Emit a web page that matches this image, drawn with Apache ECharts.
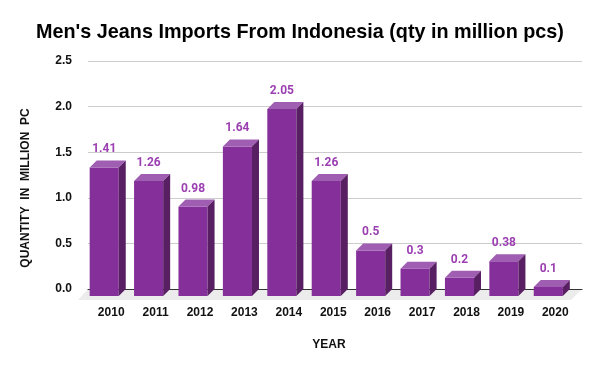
<!DOCTYPE html>
<html>
<head>
<meta charset="utf-8">
<script src="https://cdn.jsdelivr.net/npm/echarts@6/dist/echarts.min.js"></script>
<style>html,body{margin:0;padding:0;background:#fff}#c{width:600px;height:371px}</style>
</head>
<body>
<div id="c"></div>
<script>
const years = ['2010','2011','2012','2013','2014','2015','2016','2017','2018','2019','2020'];
const quantities = [1.41, 1.26, 0.98, 1.64, 2.05, 1.26, 0.5, 0.3, 0.2, 0.38, 0.1];
const yTicks = [0, 0.5, 1.0, 1.5, 2.0, 2.5];

const DEPTH = 7;
const FRONT = '#85309a', TOP = '#a05eb3', SIDE = '#581f63', LABEL = '#9b3fb1';

const chart = echarts.init(document.getElementById('c'), null, {renderer: 'canvas'});

function renderBar(params, api) {
  const i = api.value(0), v = api.value(1);
  const top = api.coord([i, v]);
  const base = api.coord([i, 0]);
  const w = api.size([1, 0])[0] * 0.655;
  const cx = top[0] - DEPTH;
  const fl = cx - w / 2, fr = cx + w / 2;
  const yt = top[1] + DEPTH, yb = base[1] + DEPTH;
  return {
    type: 'group',
    children: [
      {type: 'rect', shape: {x: fl, y: yt, width: w, height: yb - yt}, style: {fill: FRONT}},
      {type: 'polygon', shape: {points: [[fl, yt], [fr, yt], [fr + DEPTH, yt - DEPTH], [fl + DEPTH, yt - DEPTH]]}, style: {fill: TOP}},
      {type: 'polygon', shape: {points: [[fr, yt], [fr + DEPTH, yt - DEPTH], [fr + DEPTH, base[1]], [fr, yb]]}, style: {fill: SIDE}},
      {type: 'text', x: cx, y: top[1] - 11, style: {text: String(v), fill: LABEL, font: 'bold 12px Roboto, Arial, sans-serif', align: 'center', verticalAlign: 'middle'}}
    ]
  };
}

chart.setOption({
  animation: false,
  backgroundColor: '#fff',
  title: {
    text: "Men's Jeans Imports From Indonesia (qty in million pcs)",
    left: 'center', top: 18,
    textStyle: {fontFamily: 'Liberation Sans, Arial', fontWeight: 'bold', fontSize: 19.8, color: '#000'}
  },
  graphic: [
    {type: 'polygon', z: -1, shape: {points: [[88, 289], [582, 289], [571, 300], [78, 300]]}, style: {fill: '#ececec'}},
    {type: 'text', x: 26, y: 188, rotation: Math.PI / 2, style: {text: 'QUANTITY  IN  MILLION  PC', font: 'bold 12px Liberation Sans, Arial', fill: '#111', align: 'center', verticalAlign: 'middle'}},
    {type: 'text', x: 329, y: 345, style: {text: 'YEAR', font: 'bold 12px Liberation Sans, Arial', fill: '#111', align: 'center', verticalAlign: 'middle'}}
  ],
  grid: [
    {left: 88, right: 18, top: 61, bottom: 82},
    {left: 89, right: 22.5, top: 61, bottom: 82}
  ],
  xAxis: [
    {gridIndex: 0, type: 'value', min: 0, max: 1, axisLine: {show: true, onZero: false, lineStyle: {color: '#333', width: 1}}, axisTick: {show: false}, axisLabel: {show: false}, splitLine: {show: false}},
    {gridIndex: 1, type: 'category', data: years, axisLine: {show: false}, axisTick: {show: false},
      axisLabel: {margin: 18, color: '#111', fontWeight: 'bold', fontSize: 12, fontFamily: 'Liberation Sans, Arial'}}
  ],
  yAxis: [
    {gridIndex: 0, type: 'value', min: 0, max: 2.5, interval: 0.5,
      axisLine: {show: false}, axisTick: {show: false},
      axisLabel: {margin: 16, color: '#111', fontWeight: 'bold', fontSize: 12, fontFamily: 'Liberation Sans, Arial', formatter: v => v.toFixed(1)},
      splitLine: {lineStyle: {color: '#cccccc', width: 1}}},
    {gridIndex: 1, type: 'value', min: 0, max: 2.5, interval: 0.5, show: false}
  ],
  series: [{
    type: 'custom',
    xAxisIndex: 1, yAxisIndex: 1,
    renderItem: renderBar,
    encode: {x: 0, y: 1},
    data: quantities.map((q, i) => [i, q])
  }]
});
</script>
</body>
</html>
